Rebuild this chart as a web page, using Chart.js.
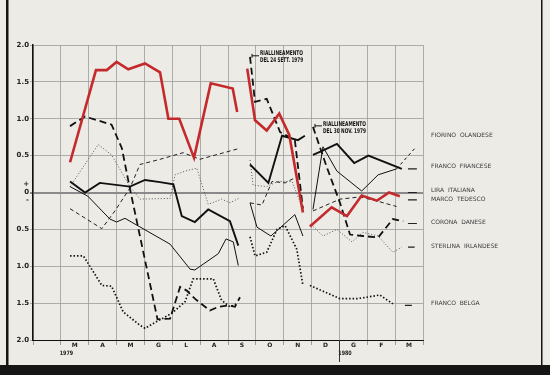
<!DOCTYPE html>
<html><head><meta charset="utf-8">
<script src="https://cdn.jsdelivr.net/npm/chart.js@4"></script>
<style>html,body{margin:0;padding:0;background:#ecebe6;}canvas{display:block;}</style>
</head><body>
<canvas id="c" width="550" height="375"></canvas>
<script>
// ---- DATA (x = months from chart origin, y = value) ----
const monthLabels = ['M','A','M','G','L','A','S','O','N','D','G','F','M'];
const yearLabels = ['1979', '1980'];
const yTickValues = [-2, -1.5, -1, -0.5, 0, 0.5, 1, 1.5, 2];
const currencyNames = ['FIORINO  OLANDESE','FRANCO  FRANCESE','LIRA  ITALIANA','MARCO  TEDESCO','CORONA  DANESE','STERLINA  IRLANDESE','FRANCO  BELGA'];
const realignNotes = [['RIALLINEAMENTO','DEL 24 SETT. 1979'],['RIALLINEAMENTO','DEL 30 NOV. 1979']];

const liraItaliana = [[1.33,0.41],[2.26,1.66],[2.65,1.66],[3.0,1.77],[3.42,1.67],[4.02,1.75],[4.56,1.63],[4.86,1.0],[5.25,1.0],[5.78,0.47],[6.38,1.48],[7.17,1.41],[7.33,1.09],null,
  [7.69,1.68],[7.97,0.98],[8.39,0.84],[8.84,1.07],[9.2,0.78],[9.69,-0.27],null,
  [9.94,-0.46],[10.72,-0.2],[11.27,-0.32],[11.8,-0.04],[12.35,-0.11],[12.78,0.0],[13.17,-0.05]];
const coronaDanese = [[1.33,0.90],[1.87,1.03],[2.82,0.92],[3.19,0.6],[3.48,0.05],[4.47,-1.72],[4.92,-1.71],[5.28,-1.28],[5.52,-1.33],[5.81,-1.44],[6.35,-1.6],[6.65,-1.55],[7.01,-1.53],[7.25,-1.55],[7.43,-1.42],null,
  [7.79,1.84],[7.97,1.23],[8.39,1.27],[8.87,0.82],[9.4,0.71],[9.69,-0.22],null,
  [10.05,0.89],[10.54,0.35],[11.02,-0.14],[11.38,-0.57],[11.84,-0.59],[12.39,-0.61],[12.92,-0.36],[13.29,-0.39]];
const marcoTedesco = [[1.33,-0.22],[2.47,-0.49],[2.94,-0.25],[3.48,0.06],[3.84,0.38],[4.56,0.45],[5.39,0.54],[5.99,0.45],[7.43,0.6],null,
  [7.79,-0.14],[8.22,-0.17],[8.58,0.15],[9.05,0.13],[9.4,0.2],null,
  [10.05,-0.25],[11.02,-0.09],[11.74,-0.06],[12.39,-0.12],[13.05,-0.19]];
const sterlinaIrlandese = [[1.33,0.08],[2.34,0.65],[2.82,0.51],[3.48,0.08],[3.84,-0.09],[4.92,-0.08],[5.1,0.24],[5.46,0.29],[5.88,0.33],[6.29,-0.16],[6.77,-0.09],[7.07,-0.14],[7.43,-0.07],null,
  [7.79,0.44],[7.9,0.1],[8.39,0.08],[8.79,0.15],[9.3,0.15],[9.69,-0.23],null,
  [10.05,-0.46],[10.41,-0.59],[10.91,-0.5],[11.45,-0.67],[11.84,-0.54],[12.39,-0.59],[12.92,-0.81],[13.24,-0.74]];
const francoBelga = [[1.33,-0.86],[1.81,-0.86],[2.47,-1.26],[2.82,-1.27],[3.24,-1.62],[3.84,-1.8],[4.02,-1.84],[4.44,-1.75],[4.98,-1.64],[5.46,-1.48],[5.75,-1.17],[6.47,-1.17],[6.77,-1.46],[7.07,-1.55],[7.31,-1.51],null,
  [7.79,-0.6],[7.97,-0.86],[8.39,-0.81],[8.76,-0.5],[9.05,-0.45],[9.47,-0.77],[9.69,-1.26],null,
  [9.94,-1.26],[11.02,-1.44],[11.62,-1.44],[11.98,-1.42],[12.45,-1.39],[12.92,-1.51]];
const francoFrancese = [[1.33,0.15],[1.87,0.0],[2.4,0.13],[3.48,0.08],[4.02,0.17],[4.56,0.14],[5.04,0.11],[5.34,-0.32],[5.81,-0.4],[6.29,-0.23],[7.07,-0.39],[7.37,-0.72],null,
  [7.79,0.38],[8.45,0.13],[8.94,0.77],[9.51,0.71],[9.76,0.77],null,
  [10.05,0.51],[10.36,0.56],[10.91,0.66],[11.53,0.4],[12.04,0.5],[13.24,0.32]];
const fiorinoOlandese = [[1.33,0.08],[1.97,-0.05],[2.76,-0.36],[3.0,-0.4],[3.3,-0.35],[4.92,-0.7],[5.64,-1.04],[5.81,-1.05],[6.65,-0.83],[6.93,-0.63],[7.19,-0.67],[7.37,-0.99],null,
  [7.79,-0.14],[8.04,-0.47],[8.54,-0.59],[9.4,-0.3],[9.69,-0.59],null,
  [10.05,-0.23],[10.41,0.62],[10.91,0.29],[11.8,0.02],[12.39,0.24],[13.05,0.32],[13.71,0.6]];
const endLevels = [[13.46,0.32],[13.78,0.32],null,[13.46,0.0],[13.78,0.0],null,[13.46,-0.1],[13.78,-0.1],null,
  [13.46,-0.42],[13.78,-0.42],null,[13.46,-0.74],[13.7,-0.74],null,[13.35,-1.53],[13.6,-1.53]];
// name label levels (value units), same order as currencyNames
const nameLevels = [0.77, 0.35, 0.03, -0.09, -0.41, -0.73, -1.50];

function pts(arr){
  const out=[]; let lastX=0;
  arr.forEach(p=>{ if(p){ out.push({x:p[0],y:p[1]}); lastX=p[0]; } else { out.push({x:lastX+0.001,y:null}); } });
  return out;
}
function firstOfSegment(arr, segIndex){
  let s=0;
  if(segIndex===0) return arr[0];
  for(let i=0;i<arr.length;i++){ if(arr[i]===null){ s++; if(s===segIndex) return arr[i+1]; } }
  return arr[0];
}

const RED='#c42a2c';
const datasets=[
  {label:'LIRA ITALIANA', data:pts(liraItaliana), borderColor:RED, borderWidth:2.6},
  {label:'FRANCO FRANCESE', data:pts(francoFrancese), borderColor:'#111', borderWidth:1.9},
  {label:'CORONA DANESE', data:pts(coronaDanese), borderColor:'#111', borderWidth:1.8, borderDash:[7,4]},
  {label:'FIORINO OLANDESE', data:pts(fiorinoOlandese), borderColor:'#111', borderWidth:1,
    segment:{borderDash: ctx => ctx.p1DataIndex===fiorinoOlandese.length-1 ? [3,3] : undefined}},
  {label:'MARCO TEDESCO', data:pts(marcoTedesco), borderColor:'#222', borderWidth:1, borderDash:[4,3]},
  {label:'STERLINA IRLANDESE', data:pts(sterlinaIrlandese), borderColor:'#555', borderWidth:1, borderDash:[1,2]},
  {label:'FRANCO BELGA', data:pts(francoBelga), borderColor:'#111', borderWidth:1.7, borderDash:[1.5,2]},
  {label:'fine', data:pts(endLevels), borderColor:'#222', borderWidth:1.2}
];
datasets.forEach(d=>{ d.pointRadius=0; d.tension=0; d.spanGaps=false; d.fill=false; });

function fitText(ctx, text, x, y, w){
  const m=ctx.measureText(text).width; const s=Math.min(1,w/m);
  ctx.save(); ctx.translate(x,y); ctx.scale(s,1); ctx.fillText(text,0,0); ctx.restore();
}

const decor={
  id:'decor',
  beforeDraw(chart){ const c=chart.ctx; c.save(); c.fillStyle='#ecebe6'; c.fillRect(0,0,chart.width,chart.height); c.restore(); },
  afterDraw(chart){
    const c=chart.ctx, x=chart.scales.x, y=chart.scales.y, area=chart.chartArea;
    c.save();
    // year separator below axis
    const xs=x.getPixelForValue(11);
    c.strokeStyle='#333'; c.lineWidth=1;
    c.beginPath(); c.moveTo(Math.round(xs)+0.5, area.bottom); c.lineTo(Math.round(xs)+0.5, 362); c.stroke();
    // year labels
    c.fillStyle='#222'; c.font='bold 6px "DejaVu Sans"'; c.textAlign='center'; c.textBaseline='middle';
    [1.2, 11.2].forEach((v,i)=>{ c.save(); c.translate(x.getPixelForValue(v),353); c.scale(0.8,1); c.fillText(yearLabels[i],0,0); c.restore(); });
    // currency names
    c.textAlign='left'; c.fillStyle='#3a3a3a'; c.font='6px "DejaVu Sans"';
    currencyNames.forEach((n,i)=>{ c.fillText(n, area.right+8, y.getPixelForValue(nameLevels[i])); });
    // realignment notes, anchored at the restart of the Corona Danese line
    c.font='bold 6.5px "DejaVu Sans"'; c.fillStyle='#111'; c.textAlign='left';
    [1,2].forEach((seg,i)=>{
      const p=firstOfSegment(coronaDanese, seg);
      const px=x.getPixelForValue(p[0]), py=y.getPixelForValue(p[1]);
      const ly=py-1;
      c.strokeStyle='#111'; c.lineWidth=1;
      c.beginPath(); c.moveTo(px+2, ly); c.lineTo(px+9, ly); c.stroke();
      c.beginPath(); c.moveTo(px+2, ly-2); c.lineTo(px+2, ly+2); c.stroke();
      fitText(c, realignNotes[i][0], px+10, ly-2, 43);
      fitText(c, realignNotes[i][1], px+10, ly+5, 43);
    });
    // frame
    c.fillStyle='#151515';
    c.fillRect(0,365,chart.width,chart.height-365);
    c.fillRect(6,0,2.5,366);
    c.fillRect(541,0,1.5,366);
    c.restore();
  }
};

new Chart(document.getElementById('c'),{
  type:'line',
  data:{datasets},
  plugins:[decor],
  options:{
    responsive:false, animation:false, devicePixelRatio:1,
    layout:{padding:{left:5,top:45,right:127,bottom:15}},
    plugins:{legend:{display:false},tooltip:{enabled:false}},
    scales:{
      x:{type:'linear',min:0,max:14,
        afterBuildTicks:s=>{ s.ticks=Array.from({length:29},(_,i)=>({value:i/2})); },
        afterFit:s=>{ s.height=20; },
        ticks:{autoSkip:false,maxRotation:0,minRotation:0,padding:-3,color:'#222',
          font:{family:'DejaVu Sans',weight:'bold',size:6},
          callback:v=>{ if(Number.isInteger(v)) return ''; const k=Math.floor(v)-1; return k>=0&&k<monthLabels.length?monthLabels[k]:''; }},
        grid:{color:c=>Number.isInteger(c.tick.value)?'#9c9c9c':'rgba(0,0,0,0)',lineWidth:0.8,tickLength:5,
          tickColor:c=>Number.isInteger(c.tick.value)?'#888':'rgba(0,0,0,0)'},
        border:{color:'#111',width:1}
      },
      y:{min:-2,max:2,
        afterBuildTicks:s=>{ s.ticks=yTickValues.map(v=>({value:v})); },
        afterFit:s=>{ s.width=28; },
        ticks:{padding:1,color:'#222',font:{family:'DejaVu Sans',weight:'bold',size:7,lineHeight:1.15},
          callback:v=> v===0?['+','0','-']:Math.abs(v).toFixed(1)},
        grid:{color:c=>c.tick.value===0?'#8a8a8a':'#9c9c9c',lineWidth:c=>c.tick.value===0?2:0.8,tickLength:3},
        border:{color:'#111',width:1.5}
      }
    }
  }
});
</script>
</body></html>
